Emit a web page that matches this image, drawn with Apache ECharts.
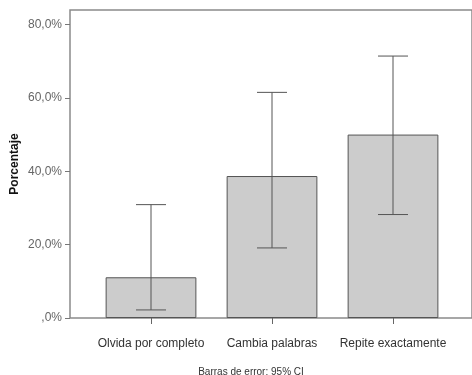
<!DOCTYPE html>
<html>
<head>
<meta charset="utf-8">
<script src="https://cdn.jsdelivr.net/npm/echarts@6/dist/echarts.min.js"></script>
<style>html,body{margin:0;padding:0;background:#fff}#c{width:472px;height:375px}</style>
</head>
<body>
<div id="c"></div>
<script>
const categories = ['Olvida por completo', 'Cambia palabras', 'Repite exactamente'];
const percentages = [11.1, 38.7, 50.0];
const ciLow = [2.2, 19.1, 28.2];
const ciHigh = [30.9, 61.5, 71.4];
const yTicks = [0, 20, 40, 60, 80];
const caption = 'Barras de error: 95% CI';

const fmt = v => (v === 0 ? ',0' : v.toFixed(1).replace('.', ',')) + '%';
const chart = echarts.init(document.getElementById('c'), null, {renderer: 'canvas'});
const ff = 'Liberation Sans, Arial, sans-serif';

chart.setOption({
  animation: false,
  title: {
    text: caption, left: 246, top: 362, textAlign: 'center',
    textStyle: {fontSize: 10, fontWeight: 'normal', color: '#333', fontFamily: ff}
  },
  grid: [
    {left: 70, top: 10, width: 420, bottom: 57, show: true, borderColor: '#8a8a8a', borderWidth: 1.5, backgroundColor: 'transparent'},
    {left: 70, top: 24.5, width: 404, bottom: 57},
    {left: 90.5, top: 24.5, width: 363, bottom: 57}
  ],
  xAxis: [
    {gridIndex: 0, type: 'category', data: categories, show: false},
    {gridIndex: 1, type: 'category', data: categories, show: false},
    {gridIndex: 2, type: 'category', data: categories,
     axisLine: {show: false},
     axisTick: {show: true, alignWithLabel: true, length: 6, lineStyle: {color: '#666', width: 1}},
     axisLabel: {interval: 0, margin: 20, fontSize: 12, color: '#333', fontFamily: ff}}
  ],
  yAxis: [
    {gridIndex: 0, type: 'value', min: 0, max: 84,
     name: 'Porcentaje', nameLocation: 'middle', nameGap: 49,
     nameTextStyle: {fontSize: 12, fontWeight: 'bold', color: '#111', fontFamily: ff},
     axisLine: {show: false}, axisTick: {show: false}, axisLabel: {show: false}, splitLine: {show: false}},
    {gridIndex: 1, type: 'value', min: yTicks[0], max: yTicks[yTicks.length - 1], interval: 20,
     axisLine: {show: false},
     axisTick: {show: true, length: 5, lineStyle: {color: '#777', width: 1}},
     axisLabel: {margin: 8, fontSize: 12, color: '#666', fontFamily: ff, formatter: fmt},
     splitLine: {show: false}},
    {gridIndex: 2, type: 'value', min: yTicks[0], max: yTicks[yTicks.length - 1], show: false, splitLine: {show: false}}
  ],
  series: [
    {type: 'bar', xAxisIndex: 2, yAxisIndex: 2, data: percentages, barCategoryGap: '25%',
     itemStyle: {color: '#cccccc', borderColor: '#555', borderWidth: 1}},
    {type: 'custom', xAxisIndex: 2, yAxisIndex: 2,
     data: categories.map((c, i) => [i, ciLow[i], ciHigh[i]]),
     renderItem: function (params, api) {
       const x = api.value(0);
       const lo = api.coord([x, api.value(1)]);
       const hi = api.coord([x, api.value(2)]);
       const hw = 15;
       const st = {stroke: '#555', lineWidth: 1};
       return {type: 'group', children: [
         {type: 'line', shape: {x1: lo[0], y1: lo[1], x2: hi[0], y2: hi[1]}, style: st},
         {type: 'line', shape: {x1: lo[0] - hw, y1: lo[1], x2: lo[0] + hw, y2: lo[1]}, style: st},
         {type: 'line', shape: {x1: hi[0] - hw, y1: hi[1], x2: hi[0] + hw, y2: hi[1]}, style: st}
       ]};
     },
     z: 5}
  ]
});
</script>
</body>
</html>
